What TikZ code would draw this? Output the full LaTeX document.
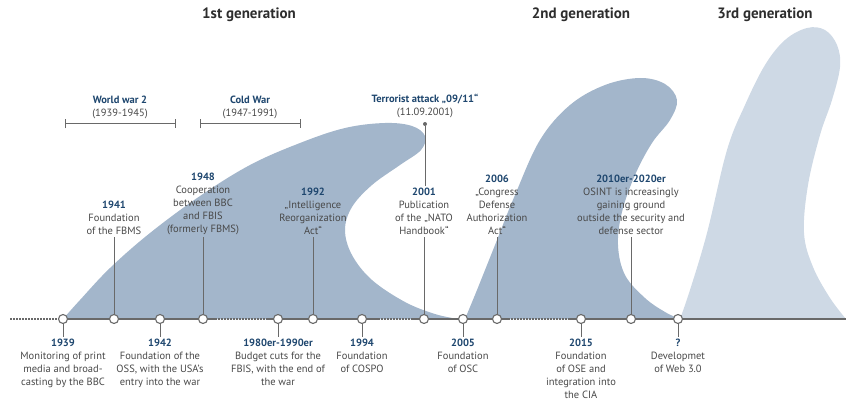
\documentclass[tikz,border=0pt]{standalone}
\usepackage{fontspec}
\setmainfont{PT Sans}
\usetikzlibrary{arrows.meta}
\definecolor{genA}{RGB}{163,182,203}
\definecolor{genC}{RGB}{206,217,229}
\definecolor{yearc}{RGB}{30,70,110}
\definecolor{txt}{RGB}{72,72,72}
\definecolor{linec}{RGB}{105,105,105}
\definecolor{titlec}{RGB}{45,45,45}
\newcommand{\yrlab}[1]{\textcolor{yearc}{\textbf{#1}}}
\begin{document}
\begin{tikzpicture}[x=1pt,y=-1pt,
  ev/.style={circle,draw=linec,fill=white,line width=1.1pt,minimum size=9pt,inner sep=0pt},
  lbl/.style={align=center,text=txt,font=\fontsize{10.5}{13}\selectfont,inner sep=2pt},
  stem/.style={draw=linec,line width=0.9pt},
  tl/.style={draw=linec,line width=1.1pt},
  tldot/.style={draw=linec,line width=1.1pt,dash pattern=on 1.5pt off 1.5pt},
  gentitle/.style={text=titlec,font=\fontsize{15}{18}\selectfont\bfseries},
  bracket/.style={draw=linec,line width=1pt,{Bar[width=9pt]}-{Bar[width=9pt]}}
]
\useasboundingbox (0,0) rectangle (846,401);
% generation shapes
\fill[genC] plot[smooth,tension=0.6] coordinates {(680,319) (690,290) (707,233) (727,150) (745,105) (765,65) (785,40) (807,28) (825,30) (837,45) (840,67) (832,100) (820,135) (808,185) (804,233) (813,267) (830,298) (846,319)} -- cycle;
\fill[genA] plot[smooth,tension=0.6] coordinates {(63,319) (80,300) (110,268) (150,233) (200,196) (250,165) (300,143) (345,128) (385,123) (412,126) (425,136) (421,150) (400,165) (372,185) (352,207) (345,230) (352,255) (372,280) (405,302) (435,314) (458,319)} -- cycle;
\fill[genA] plot[smooth,tension=0.6] coordinates {(465,319) (477,290) (495,245) (515,195) (540,140) (570,105) (605,85) (640,78) (665,84) (677,100) (670,120) (652,143) (635,175) (622,212) (618,245) (625,275) (645,298) (665,312) (680,319)} -- cycle;
% titles
\node[gentitle] (g1) at (249,15) {1st generation};
\node[gentitle] (g2) at (581,15) {2nd generation};
\node[gentitle] (g3) at (765,15) {3rd generation};
% brackets
\coordinate (ww1) at (65,124); \coordinate (ww2) at (176,124);
\coordinate (cw1) at (200,124); \coordinate (cw2) at (301,124);
\draw[bracket] (ww1) -- (ww2);
\draw[bracket] (cw1) -- (cw2);
\node[lbl,anchor=south] (ww) at (120,121) {\yrlab{World war 2}\\(1939-1945)};
\node[lbl,anchor=south] (cw) at (250,121) {\yrlab{Cold War}\\(1947-1991)};
% timeline
\coordinate (t0) at (10,319);
\coordinate (t0b) at (58,319);
\coordinate (tA1) at (215,319); \coordinate (tA2) at (268,319);
\coordinate (tB1) at (378,319); \coordinate (tB2) at (412,319);
\coordinate (tC1) at (508,319); \coordinate (tC2) at (570,319);
\coordinate (tend) at (846,319);
\draw[tldot] (t0) -- (t0b);
\draw[tl] (t0b) -- (63,319) -- (tA1);
\draw[tldot] (tA1) -- (tA2);
\draw[tl] (tA2) -- (tB1);
\draw[tldot] (tB1) -- (tB2);
\draw[tl] (tB2) -- (tC1);
\draw[tldot] (tC1) -- (tC2);
\draw[tl] (tC2) -- (tend);
% events
\node[ev] (c1939) at (63,319) {};
\node[ev] (c1941) at (114,319) {};
\node[ev] (c1942) at (160,319) {};
\node[ev] (c1948) at (203,319) {};
\node[ev] (c1980) at (278,319) {};
\node[ev] (c1992) at (313,319) {};
\node[ev] (c1994) at (362,319) {};
\node[ev] (c2001) at (424,319) {};
\node[ev] (c2005) at (463,319) {};
\node[ev] (c2006) at (497,319) {};
\node[ev] (c2015) at (581,319) {};
\node[ev] (c2010) at (631,319) {};
\node[ev] (cweb) at (678,319) {};
% labels above
\node[lbl,anchor=south] (l1941) at (114,237) {\yrlab{1941}\\Foundation\\of the FBMS};
\node[lbl,anchor=south] (l1948) at (203,237) {\yrlab{1948}\\Cooperation\\between BBC\\and FBIS\\(formerly FBMS)};
\node[lbl,anchor=south] (l1992) at (313,237) {\yrlab{1992}\\„Intelligence\\Reorganization\\Act“};
\node[lbl,anchor=south] (l2001) at (424,237) {\yrlab{2001}\\Publication\\of the „NATO\\Handbook“};
\node[lbl,anchor=south] (l2006) at (497,237) {\yrlab{2006}\\„Congress\\Defense\\Authorization\\Act“};
\node[lbl,anchor=south] (l2010) at (631,237) {\yrlab{2010er-2020er}\\OSINT is increasingly\\gaining ground\\outside the security and\\defense sector};
% labels below
\node[lbl,anchor=north] (l1939) at (63,337) {\yrlab{1939}\\Monitoring of print\\media and broad-\\casting by the BBC};
\node[lbl,anchor=north] (l1942) at (160,337) {\yrlab{1942}\\Foundation of the\\OSS, with the USA's\\entry into the war};
\node[lbl,anchor=north] (l1980) at (278,337) {\yrlab{1980er-1990er}\\Budget cuts for the\\FBIS, with the end of\\the war};
\node[lbl,anchor=north] (l1994) at (362,337) {\yrlab{1994}\\Foundation\\of COSPO};
\node[lbl,anchor=north] (l2005) at (463,337) {\yrlab{2005}\\Foundation\\of OSC};
\node[lbl,anchor=north] (l2015) at (581,337) {\yrlab{2015}\\Foundation\\of OSE and\\integration into\\the CIA};
\node[lbl,anchor=north] (lweb) at (678,337) {\yrlab{?}\\Developmet\\of Web 3.0};
% 9/11
\node[circle,fill=linec,inner sep=0pt,minimum size=4pt] (d911) at (425,124) {};
\node[lbl,anchor=south] (l911) at (425,120) {\yrlab{Terrorist attack „09/11“}\\(11.09.2001)};
% stems
\foreach \n in {1941,1948,1992,2001,2006,2010,1939,1942,1980,1994,2005,2015}
  \draw[stem] (c\n) -- (l\n);
\draw[stem] (cweb) -- (lweb);
\draw[stem] (d911) -- (l2001.north -| d911);
\end{tikzpicture}
\end{document}
